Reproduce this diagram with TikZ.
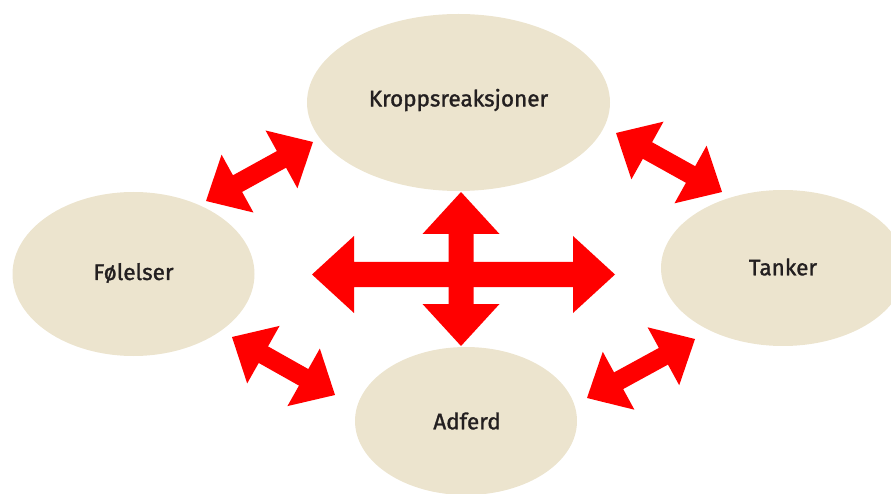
\documentclass[tikz,border=0pt]{standalone}
\usepackage{fontspec}
\setmainfont{Fira Sans}
\newfontfamily\labelfont{Fira Sans}[FakeBold=1.3]
\usetikzlibrary{shapes.geometric,calc}

\definecolor{bubble}{RGB}{236,228,206}
\definecolor{inkdark}{RGB}{35,31,32}
\definecolor{linkred}{RGB}{255,0,0}

% Two-headed block arrow between two named coordinates:
% #1 start, #2 end, #3 shaft half-width, #4 head half-width, #5 head length
\newcommand\twoway[5]{%
  \fill[linkred] let \p1=(#1), \p2=(#2),
      \n1={atan2(\y2-\y1,\x2-\x1)}, \n2={veclen(\x2-\x1,\y2-\y1)} in
    [shift={(\p1)}, rotate=\n1]
    (0,0) -- (#5,#4) -- (#5,#3) -- ({\n2-#5},#3) -- ({\n2-#5},#4)
    -- (\n2,0) -- ({\n2-#5},-#4) -- ({\n2-#5},-#3) -- (#5,-#3) -- (#5,-#4) -- cycle;}

\begin{document}
\begin{tikzpicture}[x=1pt,y=-1pt,
  bubblenode/.style={ellipse, fill=bubble, inner sep=0pt},
  labeltext/.style={text=inkdark, font=\labelfont\fontsize{22.5}{26}\selectfont}]
  \useasboundingbox (0,0) rectangle (891,494);
  \clip (0,0) rectangle (891,494);

  % the four fields
  \node[bubblenode, minimum width=303pt, minimum height=177pt] (kropp) at (458.5,102.5) {};
  \node[bubblenode, minimum width=242pt, minimum height=164pt] (fol) at (133.5,274) {};
  \node[bubblenode, minimum width=244pt, minimum height=156pt] (tank) at (783,268) {};
  \node[bubblenode, minimum width=222pt, minimum height=148pt] (adf) at (466,421) {};

  \node[labeltext] (kropptxt) at (458.5,100) {Kroppsreaksjoner};
  \node[labeltext] (foltxt) at (133.5,273) {Følelser};
  \node[labeltext] (tanktxt) at (783,267) {Tanker};
  \node[labeltext] (adftxt) at (467,421) {Adferd};

  % arrow end points
  \coordinate (hl) at (312,274.5);
  \coordinate (hr) at (615,274.5);
  \coordinate (vt) at (461,192);
  \coordinate (vb) at (461,346);
  \coordinate (tla) at (206,201);
  \coordinate (tlb) at (313,142);
  \coordinate (tra) at (616,133);
  \coordinate (trb) at (722,192);
  \coordinate (bla) at (232,337);
  \coordinate (blb) at (335,395);
  \coordinate (bra) at (587,398);
  \coordinate (brb) at (695,339);

  % central cross
  \twoway{hl}{hr}{12.5}{38.5}{42}
  \twoway{vt}{vb}{12.5}{38.5}{42}

  % links between neighbouring fields
  \twoway{tla}{tlb}{9.5}{33}{36}
  \twoway{tra}{trb}{9.5}{33}{36}
  \twoway{bla}{blb}{9.5}{33}{36}
  \twoway{bra}{brb}{9.5}{33}{36}
\end{tikzpicture}
\end{document}
